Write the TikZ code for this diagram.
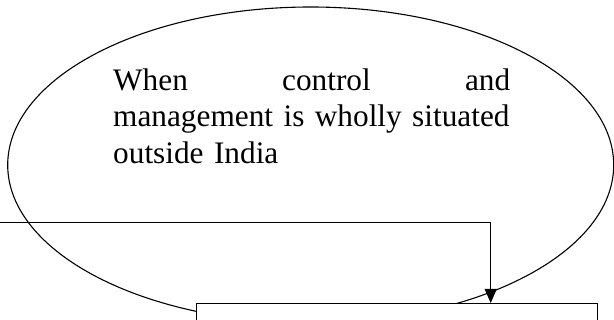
\documentclass[tikz,border=0pt]{standalone}
\usepackage{fontspec}
\setmainfont{Liberation Serif}
\usetikzlibrary{arrows.meta,shapes.geometric}
\begin{document}
\begin{tikzpicture}[x=1pt,y=-1pt,
  line/.style={line width=1pt,black},
  oval/.style={ellipse,draw,line width=1.1pt,minimum width=606pt,minimum height=316pt,inner sep=0pt},
  boxnode/.style={draw,fill=white,line width=1pt,minimum width=401.3pt,minimum height=40pt,inner sep=0pt,anchor=north west},
  txt/.style={anchor=base west,text width=397pt,align=left,inner sep=0pt,font=\fontsize{31.3}{36.3}\selectfont}]
\useasboundingbox (0,0) rectangle (614,320);
\clip (0,0) rectangle (614,320);
\node[oval] (e) at (310.7,165) {};
\node[txt] (t) at (113,90.5) {When\hfill control\hfill and\\ \mbox{management is wholly situated}\\ outside India};
\node[boxnode] (box) at (195.7,303) {};
\coordinate (src) at (0,223);
\draw[line,-{Triangle[length=14pt,width=12pt]}] (src) -| ([xshift=295pt]box.north west);
\end{tikzpicture}
\end{document}
